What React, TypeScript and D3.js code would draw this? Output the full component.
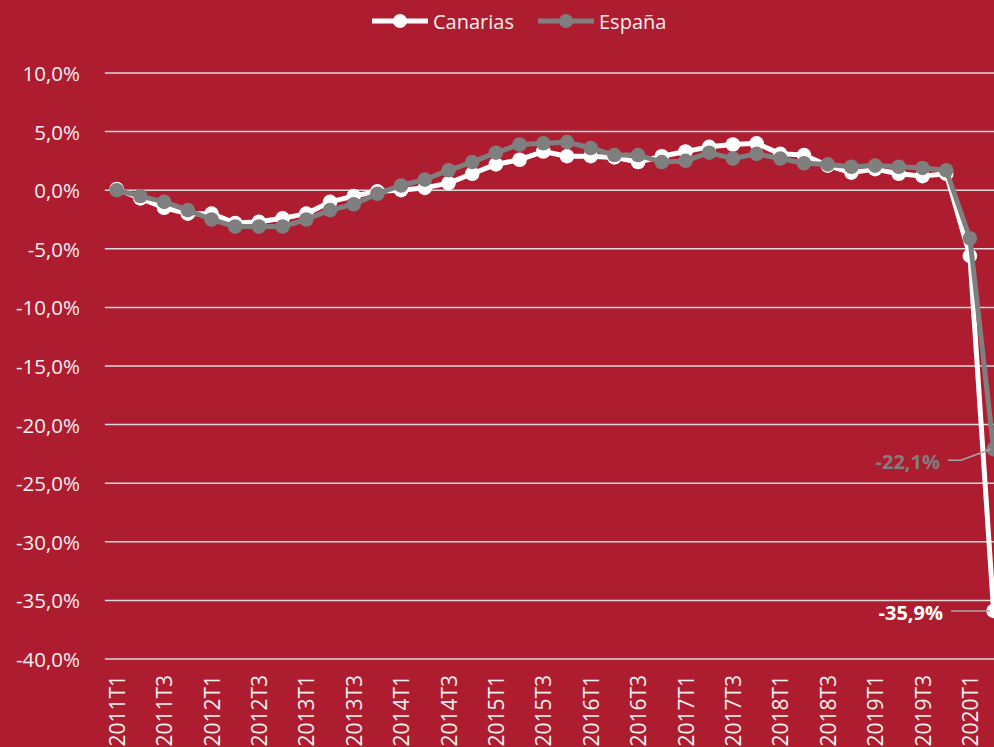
import * as d3 from 'd3';

const quarters = [
  '2011T1', '2011T2', '2011T3', '2011T4',
  '2012T1', '2012T2', '2012T3', '2012T4',
  '2013T1', '2013T2', '2013T3', '2013T4',
  '2014T1', '2014T2', '2014T3', '2014T4',
  '2015T1', '2015T2', '2015T3', '2015T4',
  '2016T1', '2016T2', '2016T3', '2016T4',
  '2017T1', '2017T2', '2017T3', '2017T4',
  '2018T1', '2018T2', '2018T3', '2018T4',
  '2019T1', '2019T2', '2019T3', '2019T4',
  '2020T1', '2020T2',
];

const canarias = [
  0.1, -0.7, -1.5, -2.0,
  -2.0, -2.8, -2.7, -2.4,
  -2.0, -1.0, -0.5, -0.1,
  0.0, 0.2, 0.6, 1.4,
  2.2, 2.6, 3.3, 2.9,
  2.9, 2.8, 2.4, 2.9,
  3.3, 3.7, 3.9, 4.0,
  3.1, 3.0, 2.1, 1.5,
  1.8, 1.4, 1.2, 1.4,
  -5.6, -35.9,
];

const espana = [
  0.0, -0.5, -1.0, -1.7,
  -2.5, -3.1, -3.1, -3.1,
  -2.5, -1.7, -1.2, -0.3,
  0.4, 0.9, 1.7, 2.4,
  3.2, 3.9, 4.0, 4.1,
  3.6, 3.0, 3.0, 2.4,
  2.5, 3.2, 2.7, 3.1,
  2.7, 2.3, 2.2, 2.0,
  2.1, 2.0, 1.9, 1.7,
  -4.1, -22.1,
];

const yTicks = [10, 5, 0, -5, -10, -15, -20, -25, -30, -35, -40];

const BG = '#ae1c2f';
const WHITE = '#ffffff';
const GREY = '#7f7f7f';
const GRID = '#d9d9d9';
const TEXT = '#f0f0f0';
const FONT = '"Open Sans", sans-serif';

const fmt = (v: number) => v.toFixed(1).replace('.', ',') + '%';

export default function App() {
  const width = 994;
  const height = 747;

  const x = d3
    .scaleBand<string>()
    .domain(quarters)
    .range([104.85, 104.85 + quarters.length * 23.7]);
  const cx = (q: string) => (x(q) ?? 0) + x.bandwidth() / 2;

  const y = d3.scaleLinear().domain([-40, 10]).range([659, 73]);

  const line = d3
    .line<number>()
    .x((_, i) => cx(quarters[i]))
    .y((d) => y(d));

  const lastQ = quarters[quarters.length - 1];
  const lastC = canarias[canarias.length - 1];
  const lastE = espana[espana.length - 1];

  const series = [
    { name: 'Canarias', values: canarias, color: WHITE },
    { name: 'España', values: espana, color: GREY },
  ];

  return (
    <svg
      width={width}
      height={height}
      style={{ position: 'absolute', left: 0, top: 0, display: 'block' }}
    >
      <rect width={width} height={height} fill={BG} />

      {/* grid + y labels */}
      {yTicks.map((t) => (
        <g key={t}>
          <line
            x1={x.range()[0]}
            x2={x.range()[1]}
            y1={y(t)}
            y2={y(t)}
            stroke={GRID}
            strokeWidth={1.5}
          />
          <text
            x={80}
            y={y(t)}
            textAnchor="end"
            dominantBaseline="central"
            fontFamily={FONT}
            fontSize={20.5}
            fill={TEXT}
          >
            {fmt(t)}
          </text>
        </g>
      ))}

      {/* x labels */}
      {quarters.map((q, i) =>
        i % 2 === 0 ? (
          <text
            key={q}
            transform={`translate(${cx(q)},675) rotate(-90)`}
            textAnchor="end"
            dominantBaseline="central"
            fontFamily={FONT}
            fontSize={21}
            fill={TEXT}
          >
            {q}
          </text>
        ) : null
      )}

      {/* series */}
      {series.map((s) => (
        <g key={s.name}>
          <path
            d={line(s.values) ?? ''}
            fill="none"
            stroke={s.color}
            strokeWidth={5}
            strokeLinejoin="round"
          />
          {s.values.map((v, i) => (
            <circle key={i} cx={cx(quarters[i])} cy={y(v)} r={7.3} fill={s.color} />
          ))}
        </g>
      ))}

      {/* callouts */}
      <polyline
        points={`948,${y(lastE) + 11} 961,${y(lastE) + 11} ${cx(lastQ) - 3},${y(lastE)}`}
        fill="none"
        stroke="#a6a6a6"
        strokeWidth={1.5}
      />
      <text
        x={940}
        y={y(lastE) + 12}
        textAnchor="end"
        dominantBaseline="central"
        fontFamily={FONT}
        fontWeight="bold"
        fontSize={20}
        fill={GREY}
      >
        {fmt(lastE)}
      </text>
      <line
        x1={951}
        x2={cx(lastQ) - 4}
        y1={y(lastC)}
        y2={y(lastC)}
        stroke="#a6a6a6"
        strokeWidth={1.5}
      />
      <text
        x={943}
        y={y(lastC) + 2}
        textAnchor="end"
        dominantBaseline="central"
        fontFamily={FONT}
        fontWeight="bold"
        fontSize={20}
        fill={WHITE}
      >
        {fmt(lastC)}
      </text>

      {/* legend */}
      {series.map((s, i) => {
        const lx = i === 0 ? 372 : 538;
        return (
          <g key={s.name} transform={`translate(${lx},21)`}>
            <line x1={0} x2={56} y1={0} y2={0} stroke={s.color} strokeWidth={5} />
            <circle cx={28} cy={0} r={7} fill={s.color} />
            <text
              x={61}
              y={0}
              dominantBaseline="central"
              fontFamily={FONT}
              fontSize={20}
              fill={TEXT}
            >
              {s.name}
            </text>
          </g>
        );
      })}
    </svg>
  );
}
